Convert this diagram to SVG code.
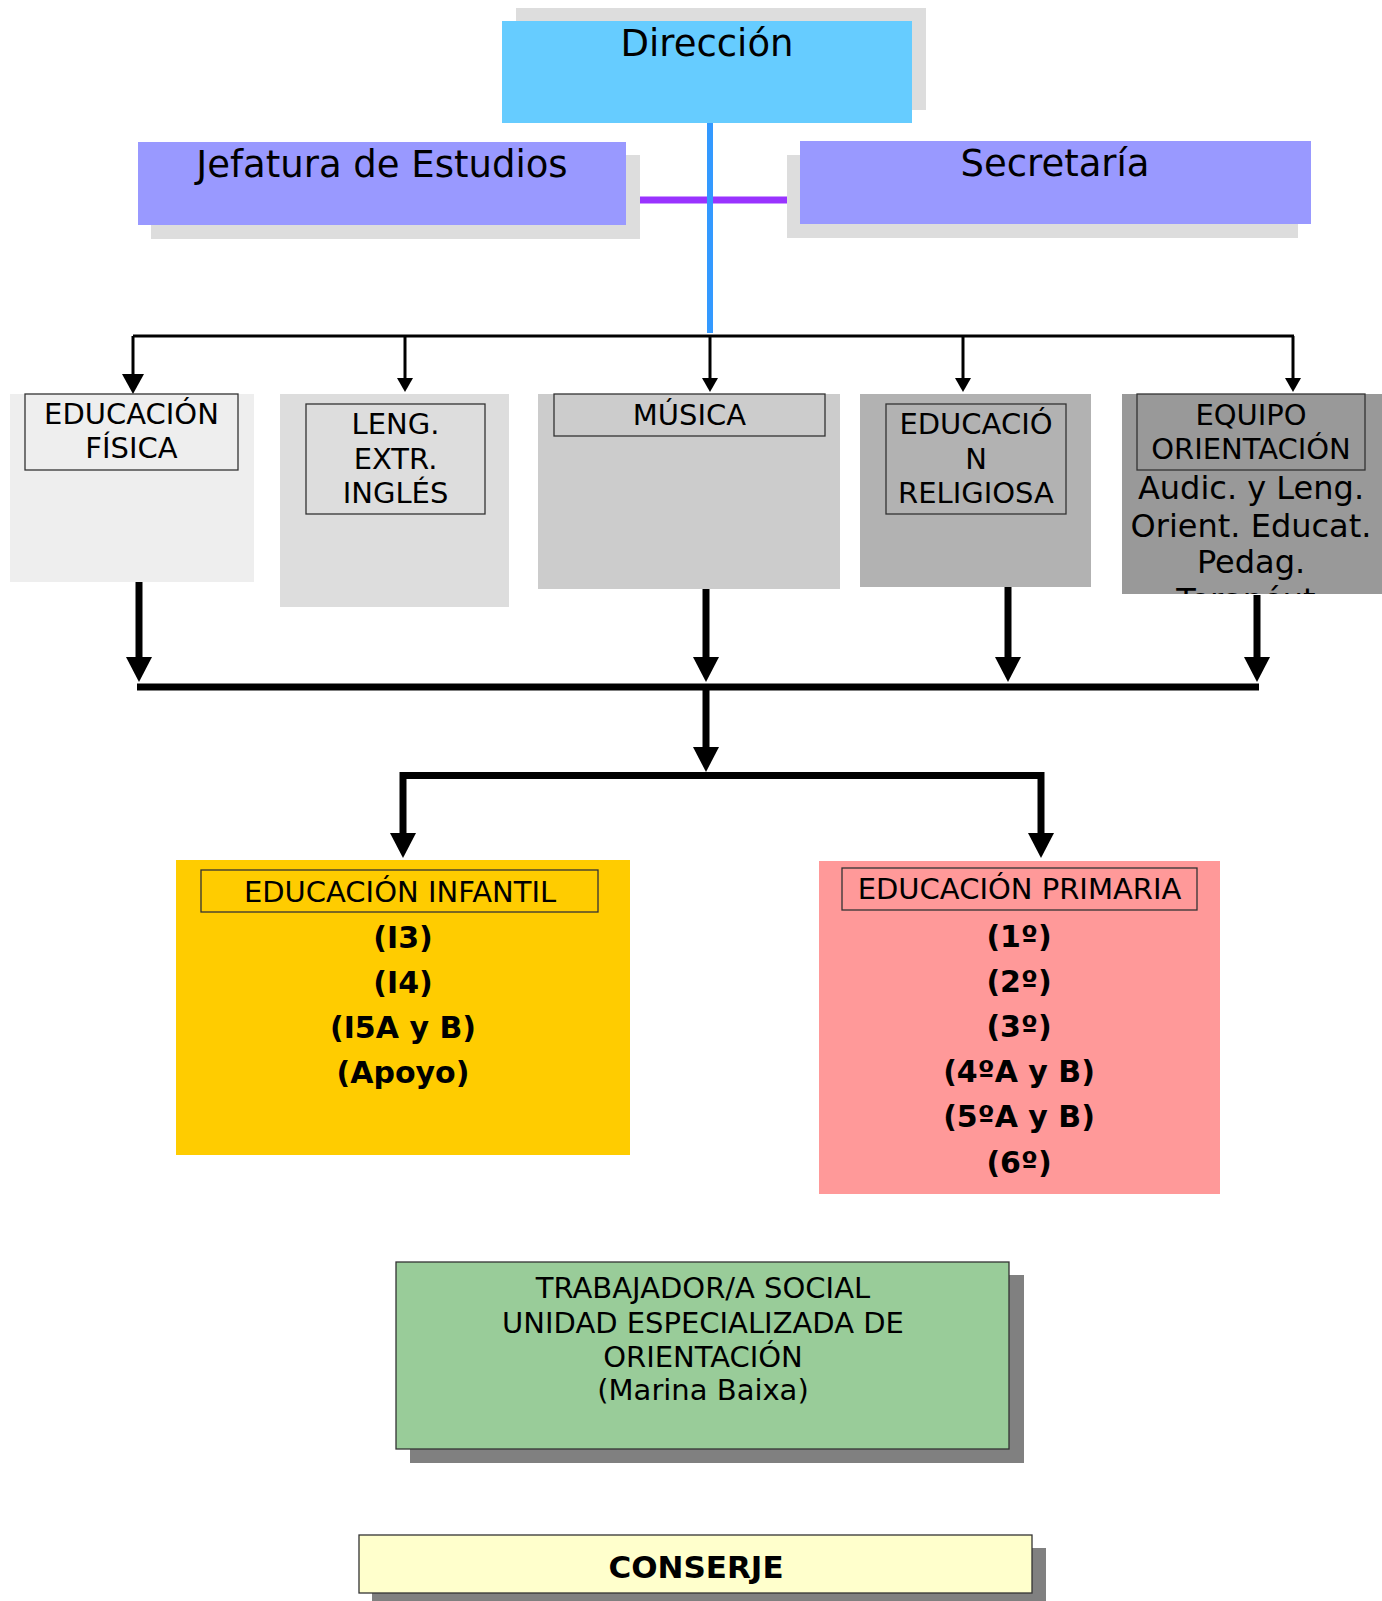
<svg xmlns="http://www.w3.org/2000/svg" width="1382" height="1601" viewBox="0 0 1382 1601">
<style>
text{font-family:"DejaVu Sans","Noto Sans",sans-serif;fill:#000;text-anchor:middle}
.t37{font-size:37px}
.t29{font-size:29px}
.t32{font-size:32px}
.b30{font-size:30px;font-weight:bold}
.b31{font-size:31px;font-weight:bold}
.shl{fill:#dddddd}
.shd{fill:#808080}
.inner{fill:none;stroke:#333333;stroke-width:1.3}
.thin{stroke:#000;stroke-width:3;fill:none}
.thick{stroke:#000;stroke-width:7;fill:none}
</style>
<defs>
<marker id="ah" markerUnits="userSpaceOnUse" markerWidth="14" markerHeight="16" refX="8" refY="8" orient="auto" viewBox="0 0 14 16"><path d="M0,0 L14,8 L0,16 Z" fill="#000"/></marker>
<marker id="ahb" markerUnits="userSpaceOnUse" markerWidth="20" markerHeight="22" refX="12" refY="11" orient="auto" viewBox="0 0 20 22"><path d="M0,0 L20,11 L0,22 Z" fill="#000"/></marker>
<marker id="aht" markerUnits="userSpaceOnUse" markerWidth="25" markerHeight="26" refX="15" refY="13" orient="auto" viewBox="0 0 25 26"><path d="M0,0 L25,13 L0,26 Z" fill="#000"/></marker>
<clipPath id="clipEq"><rect x="1122" y="394" width="260" height="200"/></clipPath>
</defs>

<g id="direccion">
<rect class="shl" x="516" y="8" width="410" height="102"/>
<rect x="502" y="21" width="410" height="102" fill="#66ccff"/>
<text class="t37" x="707" y="56">Dirección</text>
</g>

<g id="jefatura">
<rect class="shl" x="151" y="155" width="489" height="84"/>
<rect x="138" y="142" width="488" height="83" fill="#9999ff"/>
<text class="t37" x="382" y="177">Jefatura de Estudios</text>
</g>

<g id="secretaria">
<rect class="shl" x="787" y="155" width="511" height="83"/>
<rect x="800" y="141" width="511" height="83" fill="#9999ff"/>
<text class="t37" x="1055" y="176">Secretaría</text>
</g>

<g id="connectors">
<line x1="640" y1="200" x2="787" y2="200" stroke="#9933ff" stroke-width="7"/>
<line x1="710" y1="123" x2="710" y2="333" stroke="#3399ff" stroke-width="6"/>
<line class="thin" x1="133" y1="336" x2="1294" y2="336"/>
<line class="thin" x1="133" y1="336" x2="133" y2="386" marker-end="url(#ahb)"/>
<line class="thin" x1="405" y1="336" x2="405" y2="386" marker-end="url(#ah)"/>
<line class="thin" x1="710" y1="336" x2="710" y2="386" marker-end="url(#ah)"/>
<line class="thin" x1="963" y1="336" x2="963" y2="386" marker-end="url(#ah)"/>
<line class="thin" x1="1293" y1="336" x2="1293" y2="386" marker-end="url(#ah)"/>
<line class="thick" x1="139" y1="582" x2="139" y2="672" marker-end="url(#aht)"/>
<line class="thick" x1="706" y1="589" x2="706" y2="672" marker-end="url(#aht)"/>
<line class="thick" x1="1008" y1="587" x2="1008" y2="672" marker-end="url(#aht)"/>
<line class="thick" x1="1257" y1="595" x2="1257" y2="672" marker-end="url(#aht)"/>
<line class="thick" x1="137" y1="687" x2="1259" y2="687"/>
<line class="thick" x1="706" y1="687" x2="706" y2="762" marker-end="url(#aht)"/>
<line class="thick" x1="403" y1="775.5" x2="1041" y2="775.5"/>
<line class="thick" x1="403" y1="772" x2="403" y2="848" marker-end="url(#aht)"/>
<line class="thick" x1="1041" y1="772" x2="1041" y2="848" marker-end="url(#aht)"/>
</g>

<g id="ed-fisica">
<rect x="10" y="394" width="244" height="188" fill="#eeeeee"/>
<rect class="inner" x="25" y="394" width="213" height="76"/>
<text class="t29" x="131.5" y="424">EDUCACIÓN</text>
<text class="t29" x="131.5" y="458">FÍSICA</text>
</g>

<g id="ingles">
<rect x="280" y="394" width="229" height="213" fill="#dddddd"/>
<rect class="inner" x="306" y="404" width="179" height="110"/>
<text class="t29" x="395.5" y="434">LENG.</text>
<text class="t29" x="395.5" y="469">EXTR.</text>
<text class="t29" x="395.5" y="503">INGLÉS</text>
</g>

<g id="musica">
<rect x="538" y="394" width="302" height="195" fill="#cccccc"/>
<rect class="inner" x="554" y="394" width="271" height="42"/>
<text class="t29" x="689.5" y="425">MÚSICA</text>
</g>

<g id="religiosa">
<rect x="860" y="394" width="231" height="193" fill="#b2b2b2"/>
<rect class="inner" x="886" y="404" width="180" height="110"/>
<text class="t29" x="976" y="434">EDUCACIÓ</text>
<text class="t29" x="976" y="469">N</text>
<text class="t29" x="976" y="503">RELIGIOSA</text>
</g>

<g id="equipo">
<rect x="1122" y="394" width="260" height="200" fill="#999999"/>
<rect class="inner" x="1137" y="394" width="228" height="76"/>
<text class="t29" x="1251" y="425">EQUIPO</text>
<text class="t29" x="1251" y="459">ORIENTACIÓN</text>
<g clip-path="url(#clipEq)">
<text class="t32" x="1251" y="499">Audic. y Leng.</text>
<text class="t32" x="1251" y="537">Orient. Educat.</text>
<text class="t32" x="1251" y="573">Pedag.</text>
<text class="t32" x="1251" y="611">Terapéut.</text>
</g>
</g>

<g id="infantil">
<rect x="176" y="860" width="454" height="295" fill="#ffcc00"/>
<rect class="inner" x="201" y="870" width="397" height="42"/>
<text class="t29" x="400" y="902">EDUCACIÓN INFANTIL</text>
<text class="b30" x="403" y="948">(I3)</text>
<text class="b30" x="403" y="993">(I4)</text>
<text class="b30" x="403" y="1038">(I5A y B)</text>
<text class="b30" x="403" y="1083">(Apoyo)</text>
</g>

<g id="primaria">
<rect x="819" y="861" width="401" height="333" fill="#ff9999"/>
<rect class="inner" x="842" y="868" width="355" height="42"/>
<text class="t29" x="1019.5" y="899">EDUCACIÓN PRIMARIA</text>
<text class="b30" x="1019" y="947">(1º)</text>
<text class="b30" x="1019" y="992">(2º)</text>
<text class="b30" x="1019" y="1037">(3º)</text>
<text class="b30" x="1019" y="1082">(4ºA y B)</text>
<text class="b30" x="1019" y="1127">(5ºA y B)</text>
<text class="b30" x="1019" y="1173">(6º)</text>
</g>

<g id="trabajador">
<rect class="shd" x="410" y="1275" width="614" height="188"/>
<rect x="396" y="1262" width="613" height="187" fill="#99cc99" stroke="#333333" stroke-width="1.3"/>
<text class="t29" x="703" y="1298">TRABAJADOR/A SOCIAL</text>
<text class="t29" x="703" y="1333">UNIDAD ESPECIALIZADA DE</text>
<text class="t29" x="703" y="1367">ORIENTACIÓN</text>
<text class="t29" x="703" y="1400">(Marina Baixa)</text>
</g>

<g id="conserje">
<rect class="shd" x="372" y="1548" width="674" height="53"/>
<rect x="359" y="1535" width="673" height="58" fill="#ffffcc" stroke="#333333" stroke-width="1.3"/>
<text class="b31" x="696" y="1578">CONSERJE</text>
</g>
</svg>
